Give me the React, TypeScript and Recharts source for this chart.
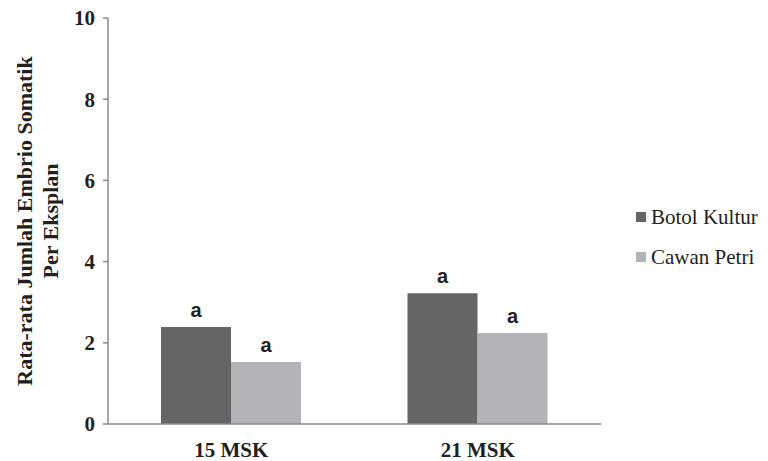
import { BarChart, Bar, XAxis, YAxis, LabelList } from "recharts";

const categories = ["15 MSK", "21 MSK"];
const botolKultur = [2.39, 3.22];
const cawanPetri = [1.53, 2.24];
const botolNotasi = ["a", "a"];
const cawanNotasi = ["a", "a"];
const yTicks = [0, 2, 4, 6, 8, 10];

const data = categories.map((name, i) => ({
  name,
  botol: botolKultur[i],
  cawan: cawanPetri[i],
  botolNote: botolNotasi[i],
  cawanNote: cawanNotasi[i],
}));

const SERIF = "Liberation Serif, DejaVu Serif, serif";
const DARK = "#656567";
const LIGHT = "#b2b3b6";
const TEXT = "#231f20";

const YLabel = () => (
  <text
    transform="translate(0, 221) rotate(-90)"
    textAnchor="middle"
    fontFamily={SERIF}
    fontWeight="bold"
    fontSize={22}
    fill={TEXT}
  >
    <tspan x={0} y={32}>Rata-rata Jumlah Embrio Somatik</tspan>
    <tspan x={0} y={58}>Per Eksplan</tspan>
  </text>
);

const legendItems = [
  { label: "Botol Kultur", color: DARK },
  { label: "Cawan Petri", color: LIGHT },
];

const ChartLegend = () => (
  <div style={{ position: "absolute", left: 636, top: 205 }}>
    {legendItems.map((it) => (
      <div
        key={it.label}
        style={{
          display: "flex",
          alignItems: "center",
          height: 24,
          marginBottom: 16,
          fontFamily: SERIF,
          fontSize: 21,
          color: TEXT,
          whiteSpace: "nowrap",
        }}
      >
        <span style={{ width: 10, height: 10, background: it.color, marginRight: 5 }} />
        {it.label}
      </div>
    ))}
  </div>
);

const noteStyle = {
  fontFamily: "Liberation Sans, DejaVu Sans, sans-serif",
  fontWeight: "bold",
  fontSize: 20,
  fill: TEXT,
};

const App = () => {
  return (
    <div style={{ position: "absolute", left: 0, top: 0, width: 768, height: 461, background: "#fff" }}>
      <BarChart
        width={768}
        height={461}
        data={data}
        margin={{ top: 18, right: 167, bottom: 7, left: 60 }}
        barGap={0}
        barCategoryGap={53}
      >
        <XAxis
          dataKey="name"
          height={30}
          axisLine={{ stroke: "#8a8a8c", strokeWidth: 1.5 }}
          tickLine={false}
          tick={{ fontFamily: SERIF, fontWeight: "bold", fontSize: 21, fill: TEXT }}
          tickMargin={12}
        />
        <YAxis
          width={48}
          domain={[0, 10]}
          ticks={yTicks}
          axisLine={{ stroke: "#8a8a8c", strokeWidth: 1.5 }}
          tickLine={{ stroke: "#8a8a8c", strokeWidth: 1.5 }}
          tickSize={5}
          tickMargin={8}
          tick={{ fontFamily: SERIF, fontWeight: "bold", fontSize: 21, fill: TEXT }}
        />
        <Bar dataKey="botol" fill={DARK} isAnimationActive={false}>
          <LabelList dataKey="botolNote" position="top" offset={10} style={noteStyle} />
        </Bar>
        <Bar dataKey="cawan" fill={LIGHT} isAnimationActive={false}>
          <LabelList dataKey="cawanNote" position="top" offset={10} style={noteStyle} />
        </Bar>
        <YLabel />
      </BarChart>
      <ChartLegend />
    </div>
  );
};

export default App;
